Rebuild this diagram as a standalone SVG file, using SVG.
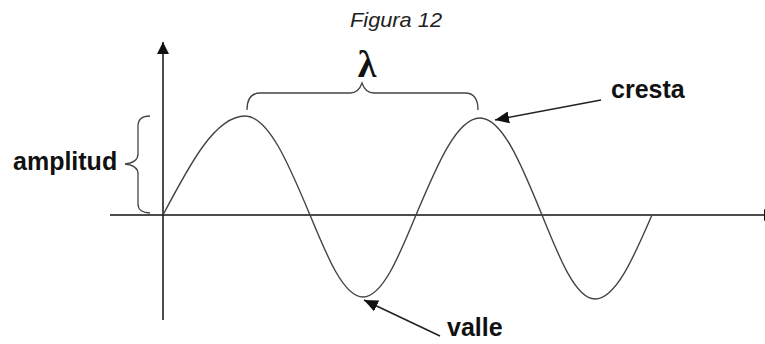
<svg xmlns="http://www.w3.org/2000/svg" width="765" height="344" viewBox="0 0 765 344">
<style>
.lbl{font-family:"Liberation Sans",Arial,sans-serif;font-weight:bold;font-size:25px;fill:#111}
.ttl{font-family:"Liberation Sans",Arial,sans-serif;font-style:italic;font-size:21px;fill:#222}
.axis{stroke:#111;stroke-width:1.5;fill:none}
.wave{stroke:#444;stroke-width:1.4;fill:none}
.brace{stroke:#444;stroke-width:1.3;fill:none}
.ptr{stroke:#222;stroke-width:1.6;fill:none}
</style>
<defs>
<marker id="ah" viewBox="0 0 12 12" refX="12" refY="6" markerWidth="12" markerHeight="12" markerUnits="userSpaceOnUse" orient="auto">
<path d="M0,0 L12,6 L0,12 Z" fill="#111"/>
</marker>
<marker id="ap" viewBox="0 0 14 12" refX="14" refY="6" markerWidth="14" markerHeight="12" markerUnits="userSpaceOnUse" orient="auto">
<path d="M0,0 L14,6 L0,12 Z" fill="#111"/>
</marker>
</defs>
<text class="ttl" x="396" y="27" text-anchor="middle" textLength="92" lengthAdjust="spacingAndGlyphs">Figura 12</text>
<g id="connectors">
<line class="axis" x1="163" y1="320" x2="163" y2="42" marker-end="url(#ah)"/>
<line class="axis" x1="110" y1="215" x2="776" y2="215" marker-end="url(#ah)"/>
<line class="ptr" x1="601" y1="100" x2="495" y2="120" marker-end="url(#ap)"/>
<line class="ptr" x1="440" y1="336" x2="364" y2="300" marker-end="url(#ap)"/>
</g>
<g id="wave">
<path class="wave" d="M163,215 C189.7,164.3 215.3,116 245,116 C268.5,116 288.8,164.3 310,215 C327.3,257 343.8,297 363,297 C382.2,297 398.7,257 416,215 C436.9,165.3 456.8,118 480,118 C502.4,118 521.8,165.3 542,215 C559.3,258 575.8,299 595,299 C615.6,299 633.4,258 652,215"/>
</g>
<g id="lambda">
<path class="brace" d="M247,110 C247,100 251,93 260,93 L350,93 C357,93 360,89 362,83 C364,89 367,93 374,93 L465,93 C474,93 478,100 478,110"/>
<text x="367" y="77" text-anchor="middle" font-family="'Liberation Serif','Times New Roman',serif" font-weight="bold" font-size="38" fill="#111">λ</text>
</g>
<g id="amplitud">
<path class="brace" d="M150,116 C143,116 138,119 138,126 L138,154 C138,160 134,163 125,164 C134,165 138,168 138,174 L138,204 C138,210 143,213 150,213"/>
<text class="lbl" x="13" y="170">amplitud</text>
</g>
<g id="cresta">
<text class="lbl" x="611" y="98">cresta</text>
</g>
<g id="valle">
<text class="lbl" x="447" y="336">valle</text>
</g>
</svg>
